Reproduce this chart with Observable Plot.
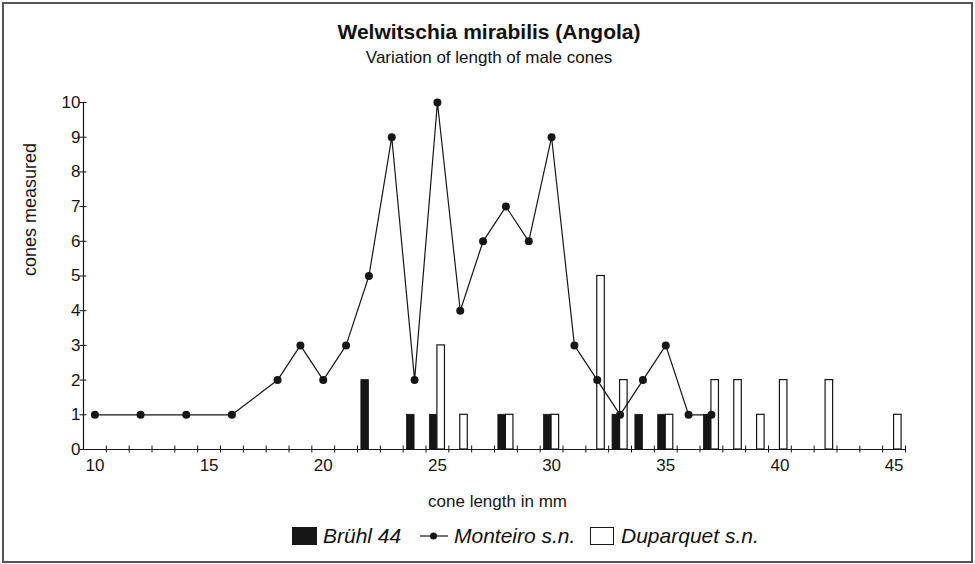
<!DOCTYPE html>
<html>
<head>
<meta charset="utf-8">
<script src="https://cdn.jsdelivr.net/npm/d3@7"></script>
<script src="https://cdn.jsdelivr.net/npm/@observablehq/plot@0.6"></script>
<style>
  html, body { margin: 0; padding: 0; background: #fff; }
  #wrap { position: relative; width: 975px; height: 564px; overflow: hidden;
          font-family: "Liberation Sans", Arial, Helvetica, sans-serif; color: #111; }
  #frame { position: absolute; left: 2px; top: 2px; width: 971px; height: 561px;
           border: 2px solid #555; box-sizing: border-box; pointer-events: none; }
  #chart { position: absolute; left: 0; top: 0; }
  .title { position: absolute; left: 0; width: 978px; text-align: center; white-space: nowrap; }
  #t1 { top: 20px; font-size: 21px; font-weight: bold; }
  #t2 { top: 48px; font-size: 17px; }
  .leg { position: absolute; top: 525px; height: 22px; display: flex; align-items: center;
         font-size: 21px; font-style: italic; white-space: nowrap; }
  .leg svg { display: block; margin-right: 6px; }
</style>
</head>
<body>
<div id="wrap">
  <div id="chart"></div>
  <div class="title" id="t1"></div>
  <div class="title" id="t2"></div>
  <div id="legend"></div>
  <div id="frame"></div>
</div>
<script>
// ---- data ----
const titleText = "Welwitschia mirabilis (Angola)";
const subtitleText = "Variation of length of male cones";
const xLabel = "cone length in mm";
const yLabel = "cones measured";
const legendLabels = ["Brühl 44", "Monteiro s.n.", "Duparquet s.n."];

const bruhlLen   = [22, 24, 25, 28, 30, 33, 34, 35, 37];
const bruhlCount = [ 2,  1,  1,  1,  1,  1,  1,  1,  1];

const monteiroLen   = [10, 12, 14, 16, 18, 19, 20, 21, 22, 23, 24, 25, 26, 27, 28, 29, 30, 31, 32, 33, 34, 35, 36, 37];
const monteiroCount = [ 1,  1,  1,  1,  2,  3,  2,  3,  5,  9,  2, 10,  4,  6,  7,  6,  9,  3,  2,  1,  2,  3,  1,  1];

const duparquetLen   = [25, 26, 28, 30, 32, 33, 35, 37, 38, 39, 40, 42, 45];
const duparquetCount = [ 3,  1,  1,  1,  5,  2,  1,  2,  2,  1,  2,  2,  1];

const xTickLabels = [10, 15, 20, 25, 30, 35, 40, 45];
const xMinorTicks = d3.range(10.5, 46, 1);
const yTicks = [0, 1, 2, 3, 4, 5, 6, 7, 8, 9, 10];
const xDomain = [9.5, 45.5];
const yDomain = [0, 10];

// ---- tables ----
const bruhl = bruhlLen.map((len, i) => ({len, count: bruhlCount[i]}));
const monteiro = monteiroLen.map((len, i) => ({len, count: monteiroCount[i]}));
const duparquet = duparquetLen.map((len, i) => ({len, count: duparquetCount[i]}));

const barW = 0.33;
const ink = "#161616";

document.getElementById("t1").textContent = titleText;
document.getElementById("t2").textContent = subtitleText;

const plot = Plot.plot({
  width: 975,
  height: 564,
  marginLeft: 83,
  marginRight: 70,
  marginTop: 102,
  marginBottom: 115,
  style: { fontFamily: "'Liberation Sans', Arial, sans-serif", fontSize: "17px", color: ink, background: "transparent" },
  x: { domain: xDomain, axis: null },
  y: { domain: yDomain, axis: null },
  marks: [
    // bars
    Plot.rect(bruhl, { x1: d => d.len - barW, x2: d => d.len, y1: 0, y2: "count", fill: ink, stroke: ink, strokeWidth: 0.8 }),
    Plot.rect(duparquet, { x1: d => d.len, x2: d => d.len + barW, y1: 0, y2: "count", fill: "white", stroke: ink, strokeWidth: 1.2 }),
    // axes lines
    Plot.ruleY([0], { stroke: ink, strokeWidth: 1.2 }),
    Plot.ruleX([xDomain[0]], { stroke: ink, strokeWidth: 1.2 }),
    // crossing ticks
    Plot.ruleX(xMinorTicks, { x: d => d, y1: 0, y2: 0, insetTop: -3.5, insetBottom: -3.5, stroke: ink, strokeWidth: 1 }),
    Plot.ruleY(yTicks, { y: d => d, x1: xDomain[0], x2: xDomain[0], insetLeft: -3.5, insetRight: -3.5, stroke: ink, strokeWidth: 1 }),
    // tick labels
    Plot.axisX(xTickLabels, { tickSize: 0, tickPadding: 9, fontSize: 17, label: null, fill: ink }),
    Plot.axisY(yTicks, { tickSize: 0, tickPadding: 3, fontSize: 17, label: null, fill: ink }),
    // line series
    Plot.line(monteiro, { x: "len", y: "count", stroke: ink, strokeWidth: 1.2 }),
    Plot.dot(monteiro, { x: "len", y: "count", r: 4, fill: ink, stroke: "none" }),
    // axis titles
    Plot.text([xLabel], { frameAnchor: "bottom", lineAnchor: "bottom", dy: 57, fontSize: 17, fill: ink, dx: 3 }),
    Plot.text([yLabel], { frameAnchor: "left", rotate: -90, dx: -53, fontSize: 18, fill: ink })
  ]
});
document.getElementById("chart").appendChild(plot);

// ---- legend ----
const legend = document.getElementById("legend");
const items = [
  { left: 292, svg: `<svg width="25" height="18"><rect x="0.5" y="0.5" width="24" height="17" fill="${ink}" stroke="${ink}"/></svg>` },
  { left: 420, svg: `<svg width="28" height="18"><line x1="0" y1="9" x2="28" y2="9" stroke="${ink}" stroke-width="1.2"/><circle cx="13.5" cy="9" r="3.5" fill="${ink}"/></svg>` },
  { left: 590, svg: `<svg width="25" height="18"><rect x="0.5" y="0.5" width="23" height="17" fill="white" stroke="${ink}" stroke-width="1"/></svg>` }
];
items.forEach((it, i) => {
  const d = document.createElement("div");
  d.className = "leg";
  d.style.left = it.left + "px";
  d.innerHTML = it.svg;
  const s = document.createElement("span");
  s.textContent = legendLabels[i];
  d.appendChild(s);
  legend.appendChild(d);
});
</script>
</body>
</html>
